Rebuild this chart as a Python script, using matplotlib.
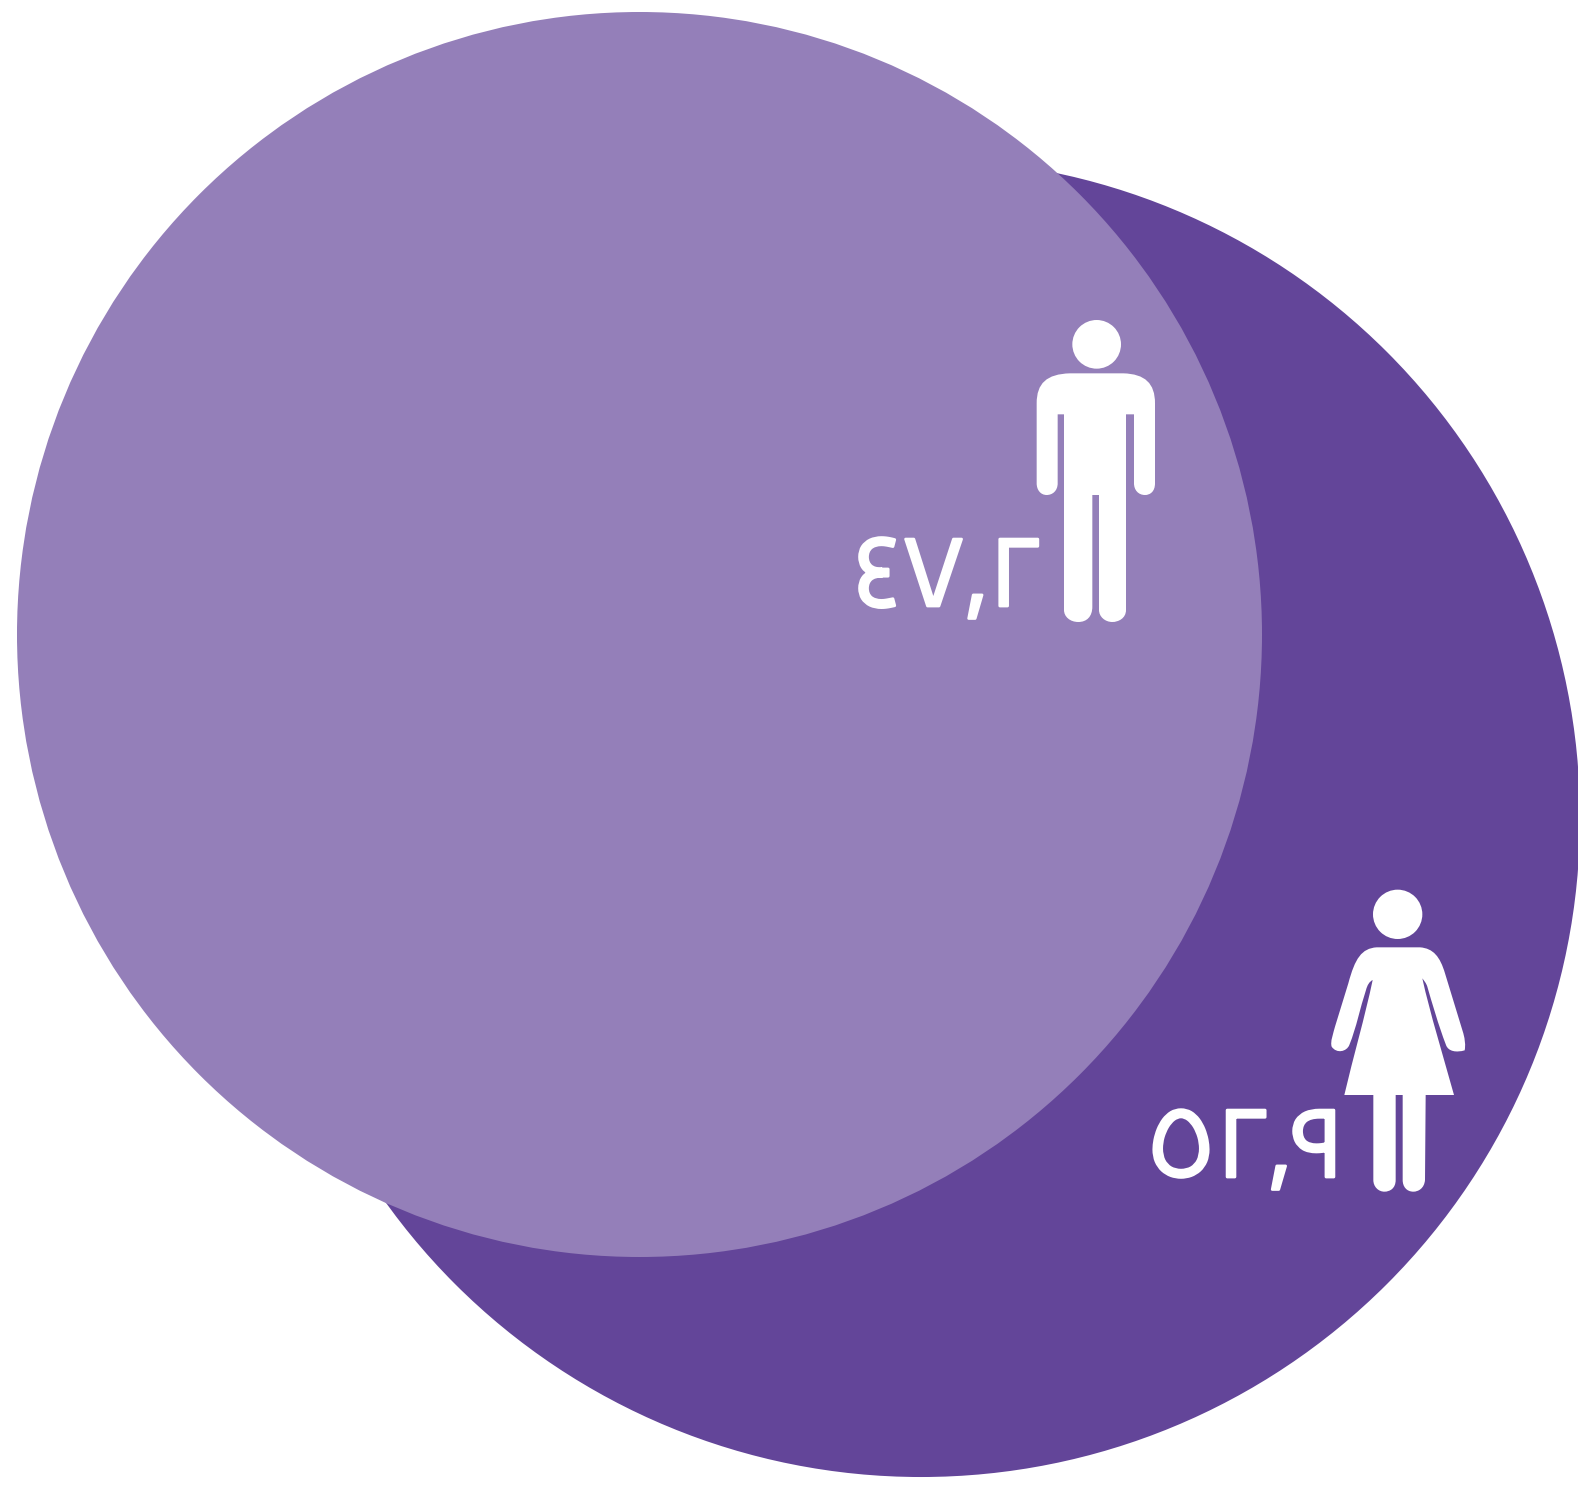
import numpy as np
import matplotlib
matplotlib.use('Agg')
import matplotlib.pyplot as plt
import matplotlib.patheffects as pe
from matplotlib.path import Path
from matplotlib.patches import PathPatch, Circle

groups = ['men', 'women']
values = [47.2, 52.9]
labels = ['٤٧,٢', '٥٢,٩']
colors = ['#947fb9', '#634599']

W, H = 1578, 1498
PX_PER_UNIT = 622.5 / np.sqrt(47.2)  # bubble area follows the value


def to_path(cmds, ox, oy):
    # icon outlines were traced on a 3x crop, ox/oy is the crop corner
    verts, codes = [], []
    for c in cmds:
        pts = np.array(c[1:], dtype=float).reshape(-1, 2)
        pts = pts / 3 + [ox, oy]
        if c[0] == 'M':
            codes += [Path.MOVETO]
        elif c[0] == 'L':
            codes += [Path.LINETO]
        else:
            codes += [Path.CURVE4] * 3
        verts += [tuple(p) for p in pts]
    verts.append(verts[0])
    codes.append(Path.CLOSEPOLY)
    return Path(verts, codes)


man = [
    ('M', 720, 220), ('L', 880, 220), ('C', 945, 222, 975, 250, 975, 310),
    ('L', 975, 550), ('C', 975, 575, 960, 585, 945, 585), ('C', 925, 585, 912, 570, 912, 550),
    ('L', 912, 343), ('L', 888, 343), ('L', 888, 930),
    ('C', 888, 955, 865, 966, 847, 966), ('C', 825, 966, 807, 950, 807, 930),
    ('L', 807, 585), ('L', 787, 585), ('L', 787, 920),
    ('C', 787, 950, 770, 966, 745, 966), ('C', 720, 966, 702, 950, 702, 930),
    ('L', 702, 343), ('L', 683, 343), ('L', 683, 550),
    ('C', 683, 572, 668, 585, 650, 585), ('C', 632, 585, 620, 570, 620, 550),
    ('L', 620, 310), ('C', 620, 250, 650, 222, 720, 220),
]
woman = [
    ('M', 710, 232), ('L', 840, 232), ('C', 880, 235, 900, 260, 915, 310),
    ('L', 970, 490), ('C', 975, 510, 977, 525, 974, 541), ('C', 950, 548, 925, 545, 918, 525),
    ('C', 895, 465, 875, 395, 862, 350), ('C', 858, 338, 852, 332, 847, 325),
    ('C', 870, 430, 910, 560, 942, 675), ('L', 857, 675), ('L', 855, 930),
    ('C', 853, 955, 835, 965, 820, 965), ('C', 800, 965, 788, 950, 788, 930),
    ('L', 788, 675), ('L', 767, 675), ('L', 767, 930),
    ('C', 767, 955, 750, 965, 733, 965), ('C', 715, 965, 700, 950, 700, 930),
    ('L', 700, 675), ('L', 613, 675), ('C', 640, 560, 675, 440, 698, 330),
    ('C', 688, 335, 682, 345, 678, 360), ('C', 660, 415, 650, 470, 628, 525),
    ('C', 620, 545, 590, 552, 575, 530), ('C', 570, 515, 580, 490, 585, 470),
    ('L', 625, 340), ('C', 645, 265, 665, 235, 710, 232),
]

fig = plt.figure(figsize=(W / 100, H / 100), dpi=100)
ax = fig.add_axes([0, 0, 1, 1])
ax.set_xlim(0, W)
ax.set_ylim(H, 0)
ax.axis('off')

# dark circle goes under the light one
centers = {'men': (639.5, 634.5), 'women': (921, 818)}
for i in [1, 0]:
    r = PX_PER_UNIT * np.sqrt(values[i])
    ax.add_patch(Circle(centers[groups[i]], r, fc=colors[i], ec='none', zorder=1 + (1 - i)))

ax.add_patch(PathPatch(to_path(man, 830, 300), fc='white', ec='none', zorder=5))
ax.add_patch(Circle((830 + 800 / 3, 300 + 133 / 3), 73 / 3, fc='white', ec='none', zorder=5))
ax.add_patch(PathPatch(to_path(woman, 1140, 870), fc='white', ec='none', zorder=5))
ax.add_patch(Circle((1140 + 773 / 3, 870 + 133 / 3), 74 / 3, fc='white', ec='none', zorder=5))

# reference digits are a bit heavier than the regular weight
heavier = [pe.withStroke(linewidth=2, foreground='white')]
ax.text(948, 606, labels[0], color='white', fontsize=73, ha='center', va='baseline',
        family=['Cairo', 'DejaVu Sans'], zorder=6, path_effects=heavier)
ax.text(1245.5, 1177, labels[1], color='white', fontsize=73, ha='center', va='baseline',
        family=['Cairo', 'DejaVu Sans'], zorder=6, path_effects=heavier)

fig.savefig('out.png', dpi=100)
